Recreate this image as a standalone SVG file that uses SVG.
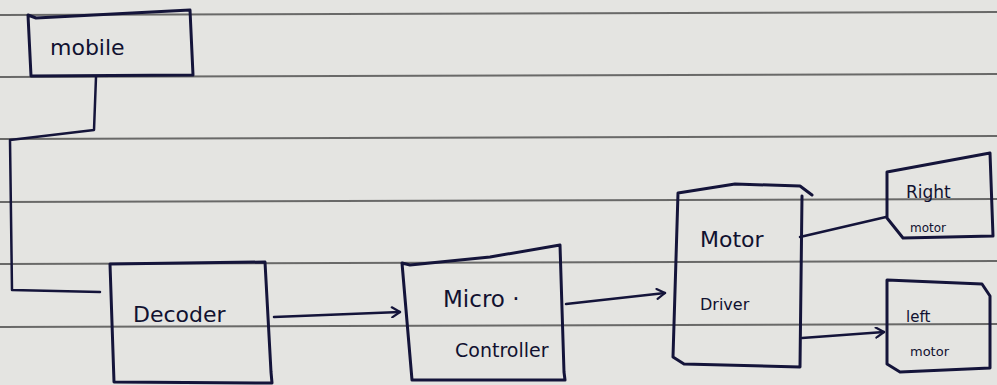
<svg xmlns="http://www.w3.org/2000/svg" width="997" height="385" viewBox="0 0 997 385">
<style>
.paper{fill:#e4e4e1}
.rule{stroke:#4a4a4a;stroke-width:2;fill:none;opacity:0.8}
.box{fill:none;stroke:#14143a;stroke-width:3;stroke-linejoin:round;stroke-linecap:round}
.conn{fill:none;stroke:#14143a;stroke-width:2.5;stroke-linecap:round;stroke-linejoin:round}
.t{font-family:"DejaVu Sans","Liberation Sans",sans-serif;fill:#111130}
</style>
<defs>
<marker id="ah" markerWidth="12" markerHeight="12" refX="10" refY="6" orient="auto" markerUnits="userSpaceOnUse">
<path d="M2,1 L10,6 L2,11" fill="none" stroke="#14143a" stroke-width="2.2" stroke-linecap="round" stroke-linejoin="round"/>
</marker>
</defs>
<rect class="paper" x="0" y="0" width="997" height="385"/>
<g id="rules">
<path class="rule" d="M0,15 L997,12"/>
<path class="rule" d="M0,77 L997,74"/>
<path class="rule" d="M0,139 L997,136"/>
<path class="rule" d="M0,202 L997,199"/>
<path class="rule" d="M0,264 L997,261"/>
<path class="rule" d="M0,327 L997,324"/>
</g>
<g id="connectors">
<path class="conn" d="M96,77 L94,130 L10,140 L12,290 L100,292"/>
<path class="conn" d="M274,317 L400,312" marker-end="url(#ah)"/>
<path class="conn" d="M566,304 L665,293" marker-end="url(#ah)"/>
<path class="conn" d="M800,237 L886,217"/>
<path class="conn" d="M802,338 L884,332" marker-end="url(#ah)"/>
</g>
<g id="mobile">
<path class="box" d="M28,15 L36,18 L190,10 L193,75 L31,76 Z"/>
<text class="t" x="50" y="55" font-size="22">mobile</text>
</g>
<g id="decoder">
<path class="box" d="M110,264 L265,262 L271,372 L272,383 L114,382 Z"/>
<text class="t" x="133" y="322" font-size="22">Decoder</text>
</g>
<g id="microcontroller">
<path class="box" d="M402,263 L410,265 L460,260 L490,257 L560,245 L564,372 L565,380 L412,380 Z"/>
<text class="t" x="443" y="307" font-size="23">Micro ·</text>
<text class="t" x="455" y="357" font-size="19">Controller</text>
</g>
<g id="motordriver">
<path class="box" d="M812,195 L800,186 L735,184 L678,193 L673,357 L684,364 L800,367 L802,196"/>
<text class="t" x="700" y="247" font-size="22">Motor</text>
<text class="t" x="700" y="310" font-size="16">Driver</text>
</g>
<g id="rightmotor">
<path class="box" d="M887,172 L990,153 L993,236 L903,238 L887,218 Z"/>
<text class="t" x="906" y="198" font-size="17">Right</text>
<text class="t" x="910" y="232" font-size="12">motor</text>
</g>
<g id="leftmotor">
<path class="box" d="M887,280 L982,284 L990,296 L990,368 L900,372 L887,364 Z"/>
<text class="t" x="906" y="322" font-size="15">left</text>
<text class="t" x="910" y="356" font-size="13">motor</text>
</g>
</svg>
